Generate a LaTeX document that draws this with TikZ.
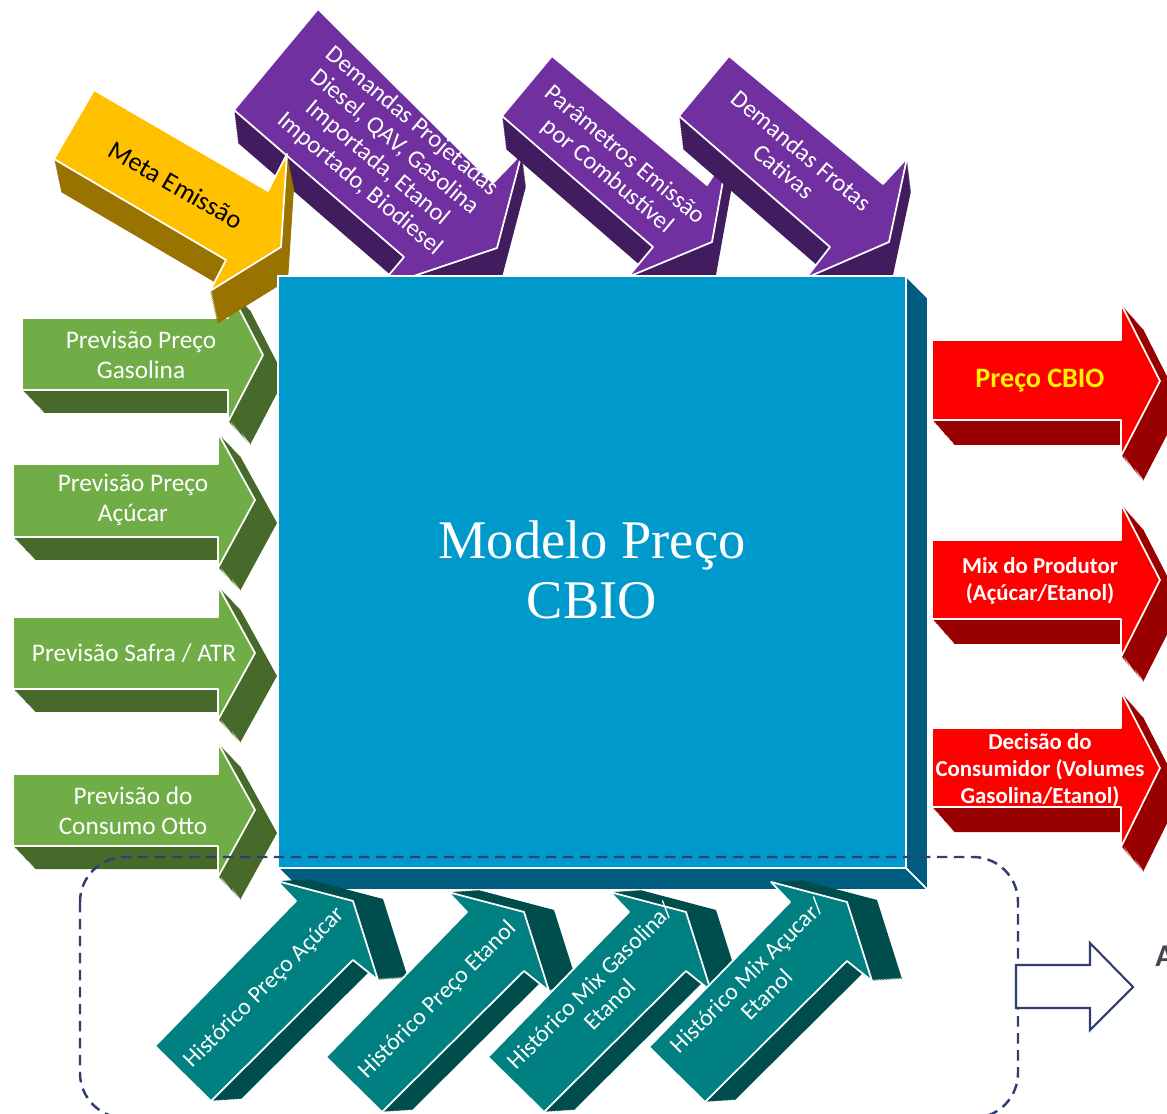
\documentclass[tikz,border=0pt]{standalone}
\usepackage{fontspec}
\setmainfont{Carlito}
\newfontfamily\modelfont{Liberation Serif}
\definecolor{boxfront}{HTML}{0099CC}
\definecolor{boxside}{HTML}{005D80}
\definecolor{grnfront}{HTML}{70AD47}
\definecolor{grnside}{HTML}{476A2A}
\definecolor{redfront}{HTML}{FF0000}
\definecolor{redside}{HTML}{990000}
\definecolor{purfront}{HTML}{7030A0}
\definecolor{purside}{HTML}{411C5F}
\definecolor{yelfront}{HTML}{FFC000}
\definecolor{yelside}{HTML}{997300}
\definecolor{tealfront}{HTML}{008080}
\definecolor{tealside}{HTML}{004D4D}
\definecolor{dashnavy}{HTML}{2F3F73}
\definecolor{agrey}{HTML}{45454F}
\newcommand{\solidarrow}[5]{%
  \foreach \t in {0,1,...,20}
    \fill[#2,shift={(#3*\t/20,#4*\t/20)}] #5;
  \filldraw[#1,draw=white,line width=1pt,line join=round] #5;
}
\begin{document}
\begin{tikzpicture}[x=0.02cm,y=-0.02cm,
  lbl/.style={text=white,align=center,inner sep=0pt},
  grnlbl/.style={lbl,font=\fontsize{14.4}{17}\selectfont},
  purlbl/.style={lbl,rotate=-40,font=\fontsize{14}{15.5}\selectfont},
  redlbl/.style={lbl,font=\bfseries\fontsize{13}{15.5}\selectfont},
  teallbl/.style={lbl,rotate=45,font=\fontsize{13.5}{15.5}\selectfont}]
\useasboundingbox (0,0) rectangle (1167,1114);

\solidarrow{purfront}{purside}{4}{33}{(318,9) -- (493,183) -- (522,153) -- (497,248) -- (378,288) -- (404,257) -- (234,110) -- cycle}
\node[purlbl] (demandas) at (386,153) {Demandas Projetadas\\Diesel, QAV, Gasolina\\Importada, Etanol\\Importado, Biodiesel};
\solidarrow{purfront}{purside}{4}{33}{(552,56) -- (707,185) -- (728,153) -- (712,242) -- (628,277) -- (653,247) -- (502,116) -- cycle}
\node[purlbl] (parametros) at (616,166) {Parâmetros Emissão\\por Combustível};
\solidarrow{purfront}{purside}{4}{33}{(729,56) -- (883,184) -- (907,158) -- (889,242) -- (806,278) -- (830,247) -- (679,116) -- cycle}
\node[purlbl] (frotas) at (793,161) {Demandas Frotas\\Cativas};

\solidarrow{grnfront}{grnside}{22}{23}{(22,318) -- (228,318) -- (228,287) -- (263,355) -- (228,422) -- (228,390) -- (22,390) -- cycle}
\node[grnlbl] (gasolina) at (141,355) {Previsão Preço\\Gasolina};
\solidarrow{grnfront}{grnside}{22}{23}{(13,464) -- (218,464) -- (218,433) -- (255,500) -- (218,568) -- (218,537) -- (13,537) -- cycle}
\node[grnlbl] (acucar) at (133,500) {Previsão Preço\\Açúcar};
\solidarrow{grnfront}{grnside}{22}{23}{(13,617) -- (218,617) -- (218,586) -- (255,653) -- (218,720) -- (218,689) -- (13,689) -- cycle}
\node[grnlbl] (safra) at (134,653) {Previsão Safra / ATR};
\solidarrow{grnfront}{grnside}{22}{23}{(13,774) -- (218,774) -- (218,743) -- (255,810) -- (218,877) -- (218,846) -- (13,846) -- cycle}
\node[grnlbl] (otto) at (133,811) {Previsão do\\Consumo Otto};

\solidarrow{yelfront}{yelside}{7}{33}{(94,90) -- (268,191) -- (287,154) -- (281,247) -- (210,291) -- (226,260) -- (54,159) -- cycle}
\node[lbl,text=black,rotate=-30,font=\fontsize{15}{17}\selectfont] (meta) at (176,185) {Meta Emissão};

\filldraw[boxside,draw=white,line width=1pt] (278,868) -- (906,868) -- (928,890) -- (300,890) -- cycle;
\filldraw[boxside,draw=white,line width=1pt] (906,276) -- (928,298) -- (928,890) -- (906,868) -- cycle;
\filldraw[boxfront,draw=white,line width=1pt] (278,276) rectangle (906,868);
\node[lbl,font=\modelfont\fontsize{31}{34}\selectfont] (modelo) at (592,570) {Modelo Preço\\CBIO};

\solidarrow{redfront}{redside}{22}{25}{(932,340) -- (1121,340) -- (1121,304) -- (1160,381) -- (1121,456) -- (1121,420) -- (932,420) -- cycle}
\node[redlbl,text=yellow,font=\bfseries\fontsize{16}{18}\selectfont] (cbio) at (1040,381) {Preço CBIO};
\solidarrow{redfront}{redside}{22}{25}{(932,540) -- (1121,540) -- (1121,504) -- (1160,580) -- (1121,657) -- (1121,619) -- (932,619) -- cycle}
\node[redlbl] (mix) at (1040,581) {Mix do Produtor\\(Açúcar/Etanol)};
\solidarrow{redfront}{redside}{22}{25}{(932,728) -- (1121,728) -- (1121,692) -- (1160,768) -- (1121,847) -- (1121,807) -- (932,807) -- cycle}
\node[redlbl] (decisao) at (1040,770) {Decisão do\\Consumidor (Volumes\\Gasolina/Etanol)};

\begin{scope}[shift={(155,1046)}]
\solidarrow{tealfront}{tealside}{30}{-2}{(0,0) -- (141,-145) -- (122,-165) -- (198,-145) -- (223,-66) -- (198,-86) -- (56,55) -- cycle}
\end{scope}
\node[teallbl] (hacucar) at (265,988) {Histórico Preço Açúcar};
\begin{scope}[shift={(326,1057)}]
\solidarrow{tealfront}{tealside}{30}{-2}{(0,0) -- (141,-145) -- (122,-165) -- (198,-145) -- (223,-66) -- (198,-86) -- (56,55) -- cycle}
\end{scope}
\node[teallbl] (hetanol) at (438,1000) {Histórico Preço Etanol};
\begin{scope}[shift={(488,1057)}]
\solidarrow{tealfront}{tealside}{30}{-2}{(0,0) -- (141,-145) -- (122,-165) -- (198,-145) -- (223,-66) -- (198,-86) -- (56,55) -- cycle}
\end{scope}
\node[teallbl] (hmixgas) at (600,995) {Histórico Mix Gasolina/\\Etanol};
\begin{scope}[shift={(649,1047)}]
\solidarrow{tealfront}{tealside}{30}{-2}{(0,0) -- (141,-145) -- (122,-165) -- (198,-145) -- (223,-66) -- (198,-86) -- (56,55) -- cycle}
\end{scope}
\node[teallbl] (hmixacu) at (757,985) {Histórico Mix Açucar/\\Etanol};

\draw[dashnavy,line width=1.4pt,dash pattern=on 0.21cm off 0.13cm,rounded corners=0.9cm] (80,857) rectangle (1018,1118);
\draw[dashnavy,fill=white,line width=1.2pt] (1016,965) -- (1090,965) -- (1090,943) -- (1133,987) -- (1090,1030) -- (1090,1008) -- (1016,1008) -- cycle;
\node[anchor=base west,inner sep=0pt,text=agrey,font=\bfseries\fontsize{18}{20}\selectfont] (a) at (1155,966) {A};
\end{tikzpicture}
\end{document}
